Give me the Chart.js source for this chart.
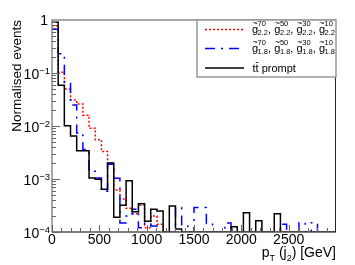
<!DOCTYPE html>
<html>
<head>
<meta charset="utf-8">
<script src="https://cdn.jsdelivr.net/npm/chart.js@4.4.1/dist/chart.umd.min.js"></script>
<style>
  html, body { margin: 0; padding: 0; background: #fff; }
  canvas { display: block; }
</style>
</head>
<body>
<canvas id="chart" width="355" height="265" style="width:355px;height:265px"></canvas>
<script>
const FONT = '"Liberation Sans", Arial, Helvetica, sans-serif'

// 46 bins between 0 and 3000 GeV
const binCount = 46
const xMax = 3000
const yMin = 1e-4
const xTicks = [0, 500, 1000, 1500, 2000, 2500]
const yDecades = [1, 0.1, 0.01, 0.001, 0.0001]

// g~ coupling 2.2 (red dotted)
const gluino22 = [
  0.78, 0.103, 0.050, 0.031, 0.026, 0.016, 0.0091, 0.0055, 0.0033, 0.0020,
  0.00062, 0.00042, 0.00028, 0.00022, 0.00032, 0.00012, 0.00020, 0.00014, 0, 0,
  0, 0, 0, 0, 0, 0, 0, 0, 0, 0,
  0, 0, 0, 0, 0, 0, 0, 0, 0, 0,
  0, 0, 0, 0, 0, 0
]
// g~ coupling 1.8 (blue dash-dot)
const gluino18 = [
  0.67, 0.23, 0.068, 0.025, 0.0074, 0.0036, 0.0014, 0.00104, 0.00059, 0.0019,
  0.00103, 0.000148, 0.00020, 0.00027, 0.00012, 0.000148, 0.00013, 0, 0, 0,
  0.00029, 0.00013, 0, 0.00029, 0.00029, 0.000145, 0, 0, 0.000148, 0,
  0, 0, 0, 0, 0, 0, 0, 0.00014, 0, 0,
  0.00015, 0, 0.00015, 0, 0, 0
]
// tt prompt (black)
const ttPrompt = [
  0.91, 0.059, 0.0101, 0.0065, 0.0034, 0.0034, 0.00104, 0.00099, 0.00064, 0.0020,
  0.00019, 0.00032, 0.00093, 0.00024, 0.00034, 0.00016, 0.00027, 0.00025, 0, 0.00031,
  0.000114, 0, 0, 0, 0, 0, 0, 0, 0, 0.000126,
  0, 0.00023, 0, 0.000163, 0, 0, 0.00022, 0, 0, 0,
  0, 0, 0, 0, 0, 0
]

const masses = ['70', '50', '30', '10']
const couplings = ['2.2', '1.8']
const ttText = ' prompt'

function histPoints(values) {
  let w = xMax / binCount
  let pts = values.map((v, i) => ({ x: i * w, y: Math.max(v, yMin) }))
  pts.push({ x: values.length * w, y: Math.max(values[values.length - 1], yMin) })
  return pts
}

function subSupText(ctx, segs, x, y) {
  // segs: [text, size, dy]
  for (let s of segs) {
    ctx.font = s[1] + 'px ' + FONT
    ctx.fillText(s[0], x, y + s[2])
    x += ctx.measureText(s[0]).width
  }
  return x
}

const rootDecor = {
  id: 'rootDecor',
  afterDraw(chart) {
    let ctx = chart.ctx
    let a = chart.chartArea
    let xs = chart.scales.x
    let ys = chart.scales.y
    ctx.save()

    // frame
    ctx.strokeStyle = '#8a8a8a'
    ctx.lineWidth = 1.5
    ctx.beginPath()
    ctx.moveTo(a.left, a.bottom)
    ctx.lineTo(a.left, a.top)
    ctx.lineTo(a.right, a.top)
    ctx.stroke()
    ctx.strokeStyle = '#555'
    ctx.beginPath()
    ctx.moveTo(a.left, a.bottom)
    ctx.lineTo(a.right, a.bottom)
    ctx.stroke()
    ctx.strokeStyle = '#222'
    ctx.lineWidth = 1
    ctx.beginPath()
    ctx.moveTo(a.right - 0.5, a.top)
    ctx.lineTo(a.right - 0.5, a.bottom)
    ctx.stroke()

    // ticks inside frame
    ctx.strokeStyle = '#666'
    ctx.lineWidth = 1
    ctx.beginPath()
    for (let v = 0; v < xMax; v += 100) {
      let px = Math.round(xs.getPixelForValue(v)) + 0.5
      let len = v % 500 == 0 ? 7 : 4
      ctx.moveTo(px, a.bottom)
      ctx.lineTo(px, a.bottom - len)
    }
    for (let d = -4; d < 0; d++) {
      for (let k = 1; k < 10; k++) {
        let py = Math.round(ys.getPixelForValue(k * Math.pow(10, d))) + 0.5
        let len = k == 1 ? 8 : 4
        ctx.moveTo(a.left, py)
        ctx.lineTo(a.left + len, py)
      }
    }
    ctx.stroke()

    // y labels with exponents
    ctx.fillStyle = '#000'
    ctx.textAlign = 'right'
    ctx.textBaseline = 'alphabetic'
    for (let v of yDecades) {
      let py = ys.getPixelForValue(v)
      if (v == 1) {
        ctx.font = '14px ' + FONT
        ctx.fillText('1', a.left - 4, py + 5)
      } else {
        let e = '\u2212' + Math.round(-Math.log10(v))
        ctx.font = '9.5px ' + FONT
        ctx.fillText(e, a.left - 2, py + 0.5)
        let ew = ctx.measureText(e).width
        ctx.font = '14px ' + FONT
        ctx.fillText('10', a.left - 2 - ew, py + 6)
      }
    }

    // x title
    ctx.textAlign = 'left'
    let segs = [['p', 14, 0], ['T', 9, 3.5], [' (j', 14, 0], ['2', 9, 3.5], [') [GeV]', 14, 0]]
    let tw = 0
    for (let s of segs) { ctx.font = s[1] + 'px ' + FONT; tw += ctx.measureText(s[0]).width }
    subSupText(ctx, segs, a.right - tw, 257)

    // legend box
    let lx = 197, ly = a.top, lr = a.right, lb = 77
    ctx.fillStyle = '#fff'
    ctx.fillRect(lx, ly, lr - lx, lb - ly)
    ctx.strokeStyle = '#999'
    ctx.lineWidth = 1.5
    ctx.strokeRect(lx, ly, lr - lx, lb - ly)

    let rows = [29.5, 48.5, 68]
    chart.data.datasets.forEach((ds, i) => {
      ctx.strokeStyle = ds.borderColor
      ctx.lineWidth = ds.borderWidth
      ctx.setLineDash(ds.borderDash || [])
      ctx.beginPath()
      ctx.moveTo(205, rows[i])
      ctx.lineTo(244, rows[i])
      ctx.stroke()
    })
    ctx.setLineDash([])

    ctx.fillStyle = '#000'
    ctx.strokeStyle = '#000'
    couplings.forEach((c, r) => {
      let base = rows[r] + 3
      masses.forEach((m, j) => {
        let x0 = 252 + j * 22.3
        ctx.font = '11px ' + FONT
        ctx.fillText('g', x0, base)
        let gw = ctx.measureText('g').width
        ctx.font = '9px ' + FONT
        ctx.textAlign = 'center'
        ctx.fillText('~', x0 + gw / 2, base - 6.5)
        ctx.textAlign = 'left'
        ctx.font = '7.5px ' + FONT
        ctx.fillText(m, x0 + gw - 0.5, base - 6.5)
        ctx.fillText(c, x0 + gw - 0.5, base + 2)
        let cw = ctx.measureText(c).width
        if (j < masses.length - 1) {
          ctx.font = '11px ' + FONT
          ctx.fillText(',', x0 + gw + cw - 0.5, base)
        }
      })
    })

    // t tbar prompt
    ctx.font = '11px ' + FONT
    let tx = 252.5, tb = rows[2] + 4
    ctx.fillText('t', tx, tb)
    let t1 = ctx.measureText('t').width
    ctx.fillText('t', tx + t1, tb)
    ctx.lineWidth = 0.8
    ctx.beginPath()
    ctx.moveTo(tx + t1 + 0.2, tb - 9.5)
    ctx.lineTo(tx + 2 * t1 - 0.2, tb - 9.5)
    ctx.stroke()
    ctx.fillText(ttText, tx + 2 * t1, tb)

    ctx.restore()
  }
}

let ctx = document.getElementById('chart').getContext('2d')
let chart = new Chart(ctx, {
  type: 'line',
  data: {
    datasets: [
      { label: 'g22', data: histPoints(gluino22), borderColor: '#ff0000', borderWidth: 1.5, borderDash: [2, 2], stepped: true, order: 3 },
      { label: 'g18', data: histPoints(gluino18), borderColor: '#0000ff', borderWidth: 1.5, borderDash: [10, 6, 2, 6], stepped: true, order: 2 },
      { label: 'tt prompt', data: histPoints(ttPrompt), borderColor: '#000000', borderWidth: 1.5, stepped: true, order: 1 }
    ]
  },
  options: {
    responsive: false,
    animation: false,
    layout: { padding: { top: 20, right: 19, left: 0, bottom: 0 } },
    elements: { point: { radius: 0 } },
    plugins: { legend: { display: false }, tooltip: { enabled: false } },
    scales: {
      x: {
        type: 'linear', min: 0, max: xMax,
        grid: { display: false, drawTicks: false, tickLength: 0 }, border: { display: false },
        afterBuildTicks: s => { s.ticks = xTicks.map(v => ({ value: v })) },
        ticks: { font: { family: FONT, size: 14 }, color: '#000', padding: 0, maxRotation: 0, autoSkip: false,
                 callback: v => String(v) },
        afterFit: s => { s.height = 33 }
      },
      y: {
        type: 'logarithmic', min: yMin, max: 1,
        grid: { display: false }, border: { display: false },
        ticks: { display: false },
        afterFit: s => { s.width = 52 },
        title: { display: true, text: 'Normalised events', align: 'end', color: '#000',
                 font: { family: FONT, size: 13.5 }, padding: { top: 9, bottom: 0 } }
      }
    }
  },
  plugins: [rootDecor]
})
</script>
</body>
</html>
